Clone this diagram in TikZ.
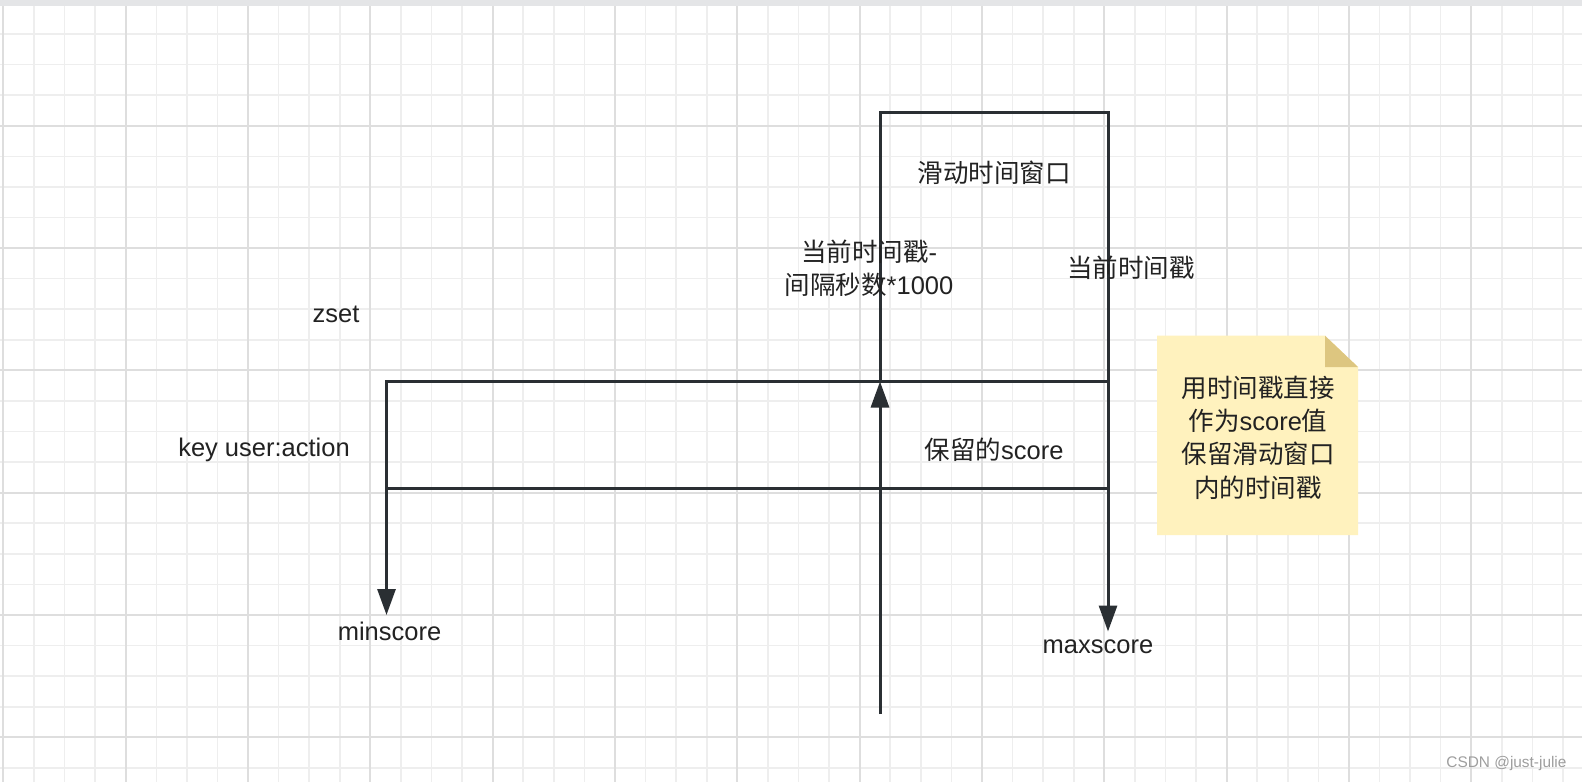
\documentclass[tikz,border=0pt]{standalone}
\usepackage{fontspec}
\setmainfont{Liberation Sans}
\newfontfamily\cjk{Noto Sans CJK SC}
\usetikzlibrary{arrows.meta}
\definecolor{linec}{HTML}{2A2F33}
\definecolor{gridminor}{HTML}{EEEEEE}
\definecolor{gridmajor}{HTML}{DEDEDE}
\definecolor{topbar}{HTML}{E4E5E7}
\definecolor{notefill}{HTML}{FFF2BE}
\definecolor{notefold}{HTML}{DDC680}
\definecolor{wmark}{HTML}{9E9E9E}
\definecolor{txt}{HTML}{222222}
\tikzset{
  lbl/.style={font=\fontsize{25.5}{33.3}\selectfont, text=txt, inner sep=0pt, align=center},
  boxline/.style={draw=linec, line width=3pt},
  arr/.style={draw=linec, line width=3pt, -{Triangle[length=26pt,width=18pt]}},
}
\begin{document}
\begin{tikzpicture}[x=1pt,y=-1pt]
\useasboundingbox (0,0) rectangle (1582,782);
\fill[white] (0,0) rectangle (1582,782);
% grid
\foreach \i in {0,...,52} {
  \draw[gridminor, line width=1.6pt] ({3.4+\i*30.58},0) -- ({3.4+\i*30.58},782);
}
\foreach \j in {0,...,25} {
  \draw[gridminor, line width=1.6pt] (0,{3.4+\j*30.58}) -- (1582,{3.4+\j*30.58});
}
\foreach \i in {0,...,13} {
  \draw[gridmajor, line width=2pt] ({3.4+\i*122.32},0) -- ({3.4+\i*122.32},782);
}
\foreach \j in {0,...,6} {
  \draw[gridmajor, line width=2pt] (0,{3.4+\j*122.32}) -- (1582,{3.4+\j*122.32});
}
\fill[topbar] (0,0) rectangle (1582,5.6);

% coordinates
\coordinate (wtl) at (880,112.3);
\coordinate (wtr) at (1108,112.3);
\coordinate (zl) at (386.5,381.5);
\coordinate (zm) at (880,381.5);
\coordinate (zr) at (1108,381.5);
\coordinate (bl) at (386.5,488.5);
\coordinate (br) at (1108,488.5);
\coordinate (upstart) at (880,714);
\coordinate (minend) at (386.5,615);
\coordinate (maxend) at (1108,631.5);

% window box
\draw[boxline] (zm) -- (wtl) -- (wtr) -- (zr);
% zset rectangle
\draw[boxline] (zl) -- (zr) -- (br) -- (bl) -- cycle;
% arrows
\draw[arr] (upstart) -- (zm);
\draw[arr] (zl) -- (minend);
\draw[arr] (zr) -- (maxend);

% note
\fill[notefill] (1157,335.7) -- (1325,335.7) -- (1358,367) -- (1358,535) -- (1157,535) -- cycle;
\fill[notefold] (1325,335.7) -- (1358,367) -- (1325,367) -- cycle;
\node[lbl] (note) at (1258,437.5) {{\cjk 用时间戳直接}\\{\cjk 作为}score{\cjk 值}\\{\cjk 保留滑动窗口}\\{\cjk 内的时间戳}};

% labels
\node[lbl] (win) at (994,172.5) {\cjk 滑动时间窗口};
\node[lbl] (start) at (869,268.4) {{\cjk 当前时间戳}-\\{\cjk 间隔秒数}*1000};
\node[lbl] (now) at (1131,268) {\cjk 当前时间戳};
\node[lbl] (zset) at (336,314) {zset};
\node[lbl] (key) at (264,450) {key user:action};
\node[lbl] (kept) at (994,450) {{\cjk 保留的}score};
\node[lbl] (minl) at (389.5,631) {minscore};
\node[lbl] (maxl) at (1098,647) {maxscore};
\node[font=\fontsize{15.4}{18}\selectfont, text=wmark, inner sep=0pt, anchor=east] (wm) at (1566.7,764) {CSDN @just-julie};
\end{tikzpicture}
\end{document}
